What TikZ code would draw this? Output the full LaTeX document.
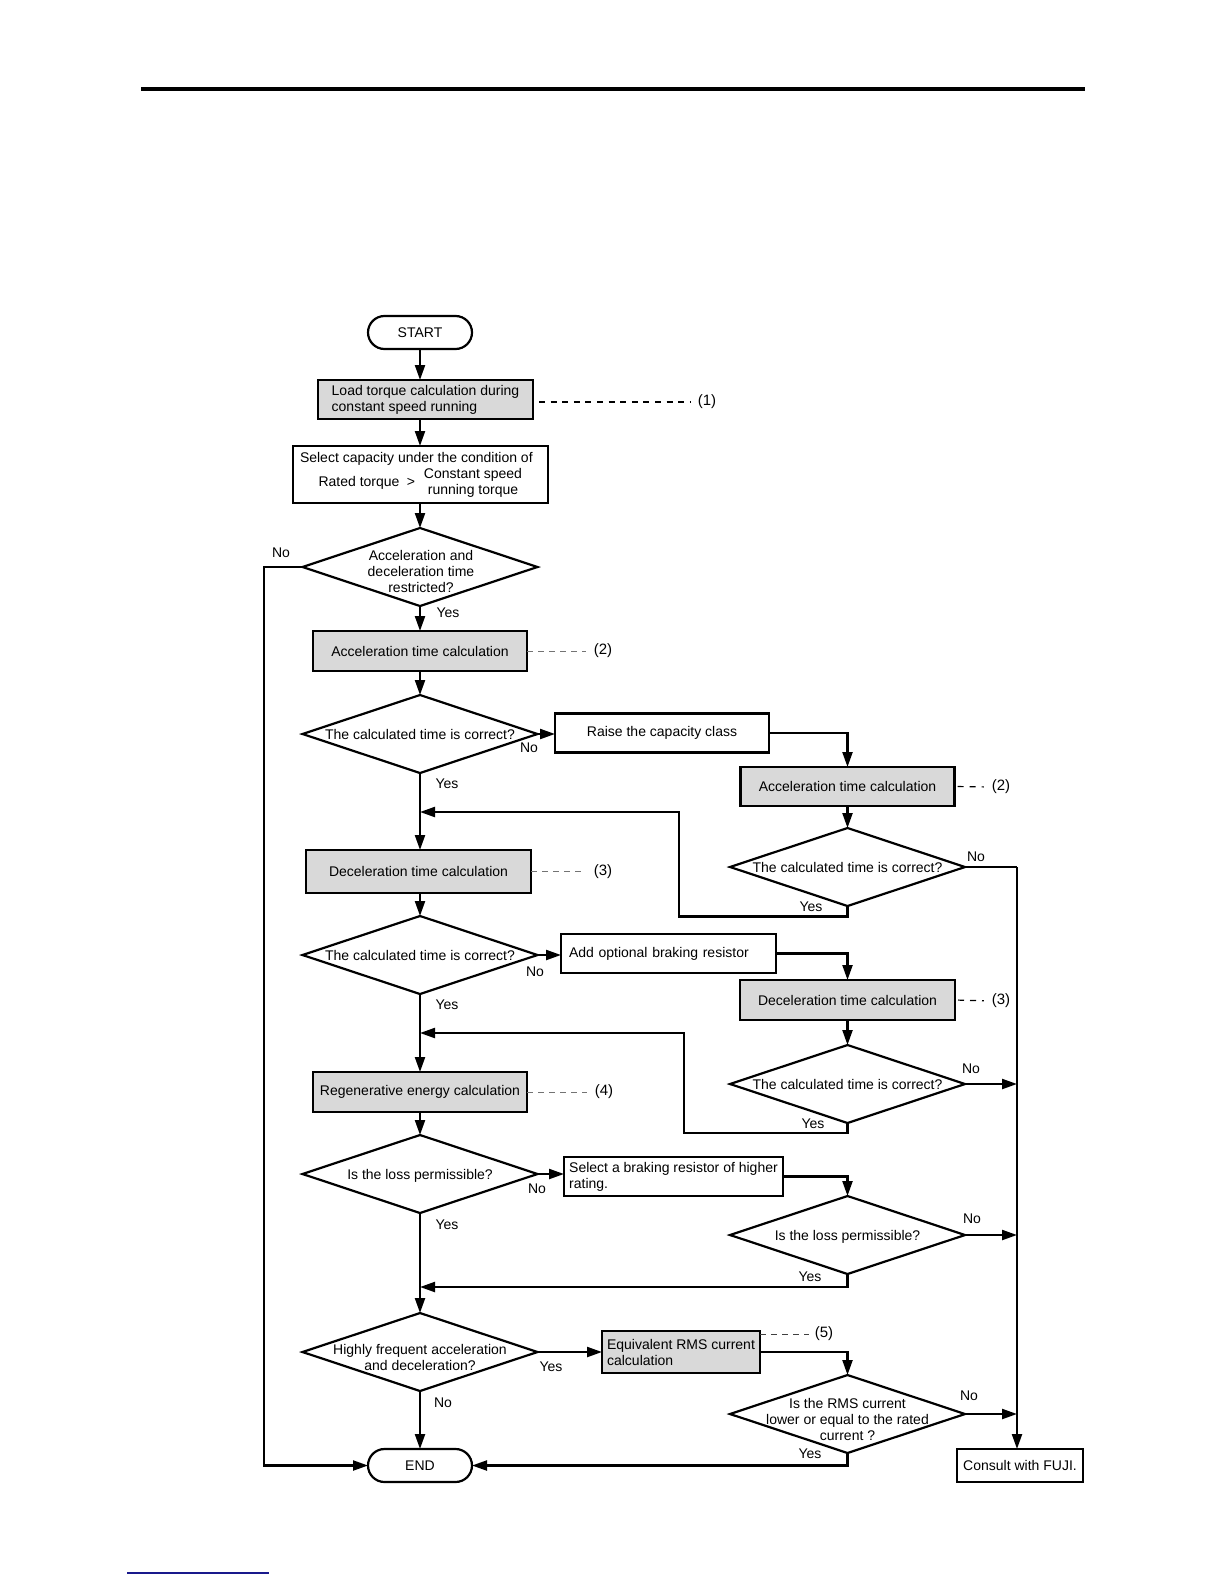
\documentclass[tikz,border=0pt]{standalone}
\usepackage{fontspec}
\setmainfont{Liberation Sans}
\usetikzlibrary{arrows.meta,shapes.geometric}
\definecolor{linkblue}{RGB}{25,25,140}
\begin{document}
\begin{tikzpicture}[x=0.5pt,y=-0.5pt,
  base/.style={font=\fontsize{7}{8}\selectfont, inner sep=0pt, outer sep=0pt},
  box/.style={base, draw, line width=1.1pt},
  gbox/.style={box, fill=black!15},
  term/.style={box, rounded corners=8.25pt, minimum width=52pt, minimum height=16.5pt},
  dia/.style={base, draw, line width=1.1pt, diamond, minimum width=117.5pt, minimum height=39pt},
  lbl/.style={base, align=center},
  flow/.style={line width=1.1pt},
  arr/.style={flow, -{Triangle[length=7.5pt,width=5pt]}},
  refg/.style={line width=0.5pt, black!55, dash pattern=on 3pt off 2.5pt},
  refk/.style={line width=0.6pt, dash pattern=on 3pt off 2.8pt},
  num/.style={base, font=\fontsize{7.5}{9}\selectfont},
]
\useasboundingbox (0,0) rectangle (1224,1584);
\fill[white] (0,0) rectangle (1224,1584);

% page rules
\draw[line width=2pt] (141,89) -- (1085,89);
\draw[line width=1pt, linkblue] (127,1573) -- (269,1573);

% ---- left column ----
\node[term] (start) at (420,332.5) {START};
\node[gbox, minimum width=107.5pt, minimum height=19.5pt, align=left] (load) at (425.5,399.5) {Load torque calculation during\\constant speed running};
\node[num] (n1) at (707,402) {(1)};

\node[box, minimum width=127.5pt, minimum height=28.5pt] (sel) at (420.5,474.5) {};
\node[base, anchor=west] (selt) at (300,459) {Select capacity under the condition of};
\node[base] (selr) at (359,483) {Rated torque};
\node[base] (selg) at (411,482) {>};
\node[base, align=center] (selc) at (473,483) {Constant speed\\running torque};

\node[dia] (d1) at (420,567) {};
\node[lbl] (d1t) at (421,571) {Acceleration and\\deceleration time\\restricted?};

\node[gbox, minimum width=107pt, minimum height=20pt] (acc1) at (420,651) {Acceleration time calculation};
\node[num] (n2a) at (603,651) {(2)};

\node[dia] (d2) at (420,734) {};
\node[lbl] (d2t) at (420,734) {The calculated time is correct?};

\node[gbox, minimum width=112.5pt, minimum height=21.5pt] (dec1) at (418.5,871.5) {Deceleration time calculation};
\node[num] (n3a) at (603,871.5) {(3)};

\node[dia] (d3) at (420,955) {};
\node[lbl] (d3t) at (420,955) {The calculated time is correct?};

\node[gbox, minimum width=107pt, minimum height=20pt] (regen) at (420,1092) {Regenerative energy calculation};
\node[num] (n4) at (604,1092) {(4)};

\node[dia] (d5) at (420,1174) {};
\node[lbl] (d5t) at (420,1176) {Is the loss permissible?};

\node[dia] (d9) at (420,1352) {};
\node[lbl] (d9t) at (420,1357) {Highly frequent acceleration\\and deceleration?};

\node[term] (end) at (420,1465.5) {END};

% ---- middle boxes ----
\node[box, minimum width=107pt, minimum height=19.5pt] (raise) at (662,733) {Raise the capacity class};
\node[box, text width=99.5pt, align=left, inner xsep=4pt, minimum height=19.5pt] (add) at (668.5,953.5) {Add optional braking resistor};
\node[box, minimum width=109.5pt, minimum height=19.5pt, align=left] (selb) at (673.5,1176.5) {Select a braking resistor of higher\\rating.};
\node[gbox, minimum width=79pt, minimum height=21pt, align=left] (equiv) at (681,1352) {Equivalent RMS current\\calculation};
\node[num] (n5) at (824,1334) {(5)};

% ---- right column ----
\node[gbox, minimum width=107pt, minimum height=19.5pt] (acc2) at (847.5,786.5) {Acceleration time calculation};
\node[num] (n2b) at (1001,787) {(2)};
\node[dia] (d4) at (847.5,867) {};
\node[lbl] (d4t) at (847.5,867) {The calculated time is correct?};

\node[gbox, minimum width=107.5pt, minimum height=20pt] (dec2) at (847.5,1000) {Deceleration time calculation};
\node[num] (n3b) at (1001,1001) {(3)};
\node[dia] (d7) at (847.5,1084) {};
\node[lbl] (d7t) at (847.5,1084) {The calculated time is correct?};

\node[dia] (d8) at (847.5,1235) {};
\node[lbl] (d8t) at (847.5,1237) {Is the loss permissible?};

\node[dia] (d10) at (847.5,1414) {};
\node[lbl] (d10t) at (847.5,1419) {Is the RMS current\\lower or equal to the rated\\current ?};

\node[box, minimum width=63pt, minimum height=16.5pt] (consult) at (1020,1465.5) {Consult with FUJI.};

% ---- branch labels ----
\node[base] (no1) at (281,553) {No};
\node[base] (y1) at (448,613) {Yes};
\node[base] (no2) at (529,748) {No};
\node[base] (y2) at (447,784) {Yes};
\node[base] (no4) at (976,857) {No};
\node[base] (y4) at (811,907) {Yes};
\node[base] (no3) at (535,972) {No};
\node[base] (y3) at (447,1005) {Yes};
\node[base] (no7) at (971,1069) {No};
\node[base] (y7) at (813,1124) {Yes};
\node[base] (no5) at (537,1189) {No};
\node[base] (y5) at (447,1225) {Yes};
\node[base] (no8) at (972,1219) {No};
\node[base] (y8) at (810,1277) {Yes};
\node[base] (y9) at (551,1367) {Yes};
\node[base] (no9) at (443,1403) {No};
\node[base] (no10) at (969,1396) {No};
\node[base] (y10) at (810,1454) {Yes};

% ---- helper coordinates ----
\coordinate (lft) at (264,567);
\coordinate (rtop) at (1017,867);
\coordinate (r1) at (679,812);
\coordinate (j1) at (420,812);
\coordinate (r2) at (684,1033);
\coordinate (j2) at (420,1033);
\coordinate (j3) at (420,1287);

% ---- reference dashes ----
\draw[refk, shorten <=3pt, shorten >=4pt] (load.east |- n1.west) -- (n1.west);
\draw[refg, shorten >=4pt] (acc1.east) -- (n2a.west);
\draw[refg, shorten >=4pt] (dec1.east) -- (n3a.west);
\draw[refg, shorten >=4pt] (regen.east) -- (n4.west);
\draw[refk, shorten <=1.5pt, shorten >=4pt, dash pattern=on 3pt off 3pt] (acc2.east) -- (n2b.west);
\draw[refk, shorten <=1.5pt, shorten >=4pt, dash pattern=on 3pt off 3pt] (dec2.east) -- (n3b.west);
\draw[refg, black!75, shorten >=3pt] (equiv.east |- n5.west) -- (n5.west);

% ---- connectors: main column ----
\draw[arr] (start.south) -- (start.south |- load.north);
\draw[arr] (start.south |- load.south) -- (start.south |- sel.north);
\draw[arr] (d1.north |- sel.south) -- (d1.north);
\draw[arr] (d1.south) -- (acc1.north);
\draw[arr] (acc1.south) -- (d2.north);
\draw[arr] (d2.south) -- (d2.south |- dec1.north);
\draw[arr] (d3.north |- dec1.south) -- (d3.north);
\draw[arr] (d3.south) -- (regen.north);
\draw[arr] (regen.south) -- (d5.north);
\draw[arr] (d5.south) -- (d9.north);
\draw[arr] (d9.south) -- (end.north);
\draw[arr] (d1.west) -- (lft) |- (end.west);

% ---- connectors: branches ----
\draw[arr] (d2.east) -- (d2.east -| raise.west);
\draw[arr] (raise.east) -| (acc2.north);
\draw[arr] (acc2.south) -- (d4.north);
\draw[arr] (d4.south) -- ++(0,10.5) -| (r1) -- (j1);
\draw[flow] (d4.east) -- (rtop);
\draw[arr] (rtop) -- (rtop |- consult.north);

\draw[arr] (d3.east) -- (d3.east -| add.west);
\draw[arr] (add.east) -| (dec2.north);
\draw[arr] (dec2.south) -- (d7.north);
\draw[arr] (d7.east) -- (d7.east -| rtop);
\draw[arr] (d7.south) -- ++(0,10) -| (r2) -- (j2);

\draw[arr] (d5.east) -- (d5.east -| selb.west);
\draw[arr] (selb.east) -| (d8.north);
\draw[arr] (d8.east) -- (d8.east -| rtop);
\draw[arr] (d8.south) |- (j3);

\draw[arr] (d9.east) -- (equiv.west);
\draw[arr] (equiv.east) -| (d10.north);
\draw[arr] (d10.east) -- (d10.east -| rtop);
\draw[arr] (d10.south) |- (end.east);
\end{tikzpicture}
\end{document}
